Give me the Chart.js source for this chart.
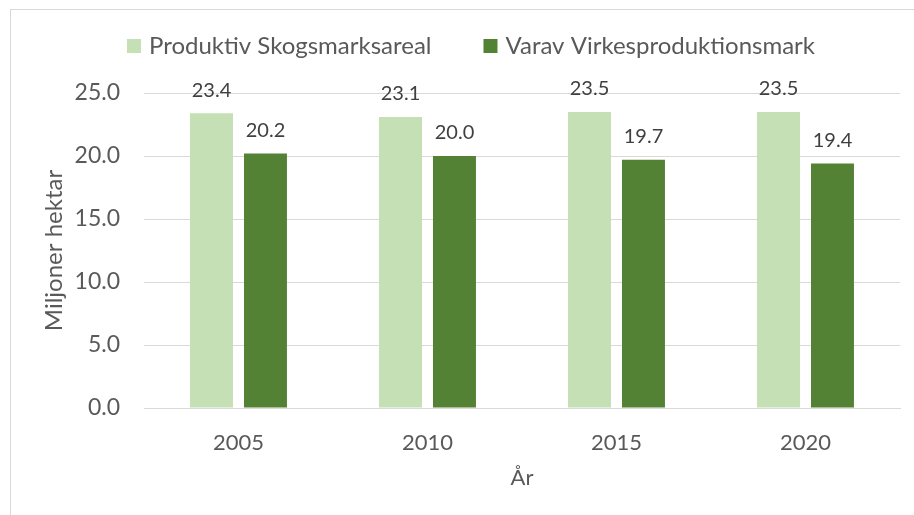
<!DOCTYPE html>
<html>
<head>
<meta charset="utf-8">
<script src="https://cdn.jsdelivr.net/npm/chart.js@4.4.1/dist/chart.umd.min.js"></script>
<style>
  html, body { margin: 0; padding: 0; background: #ffffff; overflow: hidden; }
  #wrap { position: relative; width: 914px; height: 515px; }
  #frame { position: absolute; left: 10px; top: 9px; width: 1200px; height: 1200px; border: 1px solid #d9d9d9; box-sizing: border-box; }
  canvas { position: absolute; left: 0; top: 0; }
</style>
</head>
<body>
<div id="wrap">
  <div id="frame"></div>
  <canvas id="c" width="914" height="515"></canvas>
</div>
<script>
const categories = ["2005", "2010", "2015", "2020"];
const produktivSkogsmark = [23.4, 23.1, 23.5, 23.5];
const varavVirkesproduktion = [20.2, 20.0, 19.7, 19.4];
const seriesNames = ["Produktiv Skogsmarksareal", "Varav Virkesproduktionsmark"];
const yTicks = [0, 5, 10, 15, 20, 25];
const yTitle = "Miljoner hektar";
const xTitle = "År";

const FONT = "Lato, 'Liberation Sans', sans-serif";
const TEXT = "#595959";

const legendPlugin = {
  id: 'customLegend',
  afterDraw(chart) {
    const ctx = chart.ctx;
    ctx.save();
    ctx.font = "24px " + FONT;
    ctx.textBaseline = 'middle';
    ctx.textAlign = 'left';
    const box = 14, gap = 8, spacing = 52;
    const w1 = ctx.measureText(seriesNames[0]).width;
    const w2 = ctx.measureText(seriesNames[1]).width;
    const total = box + gap + w1 + spacing + box + gap + w2;
    let x = 471 - total / 2;
    const cy = 46;
    chart.data.datasets.forEach((ds, i) => {
      ctx.fillStyle = ds.backgroundColor;
      ctx.fillRect(x, cy - box / 2, box, box);
      x += box + gap;
      ctx.fillStyle = TEXT;
      ctx.fillText(ds.label, x, cy);
      x += (i === 0 ? w1 : w2) + spacing;
    });
    ctx.restore();
  }
};

const valueLabels = {
  id: 'valueLabels',
  afterDatasetsDraw(chart) {
    const ctx = chart.ctx;
    ctx.save();
    ctx.font = "20px " + FONT;
    ctx.fillStyle = "#404040";
    ctx.textAlign = 'center';
    ctx.textBaseline = 'middle';
    chart.data.datasets.forEach((ds, di) => {
      const meta = chart.getDatasetMeta(di);
      meta.data.forEach((bar, i) => {
        ctx.fillText(ds.data[i].toFixed(1), bar.x, bar.y - 23);
      });
    });
    ctx.restore();
  }
};

new Chart(document.getElementById('c'), {
  type: 'bar',
  data: {
    labels: categories,
    datasets: [
      { label: seriesNames[0], data: produktivSkogsmark, backgroundColor: '#c5e0b4',
        categoryPercentage: 0.571, barPercentage: 0.796 },
      { label: seriesNames[1], data: varavVirkesproduktion, backgroundColor: '#548235',
        categoryPercentage: 0.571, barPercentage: 0.796 }
    ]
  },
  options: {
    responsive: false,
    devicePixelRatio: 1,
    animation: false,
    layout: { padding: { left: 36, right: 14, top: 93, bottom: 20 } },
    plugins: {
      legend: { display: false },
      tooltip: { enabled: false }
    },
    scales: {
      x: {
        grid: { display: false, drawTicks: false },
        border: { display: true, color: '#d9d9d9' },
        ticks: { color: TEXT, font: { family: FONT, size: 22 }, padding: 22 },
        title: { display: true, text: xTitle, color: TEXT, font: { family: FONT, size: 22 }, padding: 4 },
        afterFit(scale) { scale.height = 87; }
      },
      y: {
        min: 0, max: 25,
        afterBuildTicks(scale) { scale.ticks = yTicks.map(v => ({ value: v })); },
        grid: { color: '#d9d9d9', drawTicks: false },
        border: { display: false },
        ticks: { color: TEXT, font: { family: FONT, size: 23 }, padding: 24,
                 callback: v => Number(v).toFixed(1) },
        title: { display: true, text: yTitle, color: TEXT, font: { family: FONT, size: 24 }, padding: 4 },
        afterFit(scale) { scale.width = 144 - 36; }
      }
    }
  },
  plugins: [legendPlugin, valueLabels]
});
</script>
</body>
</html>
